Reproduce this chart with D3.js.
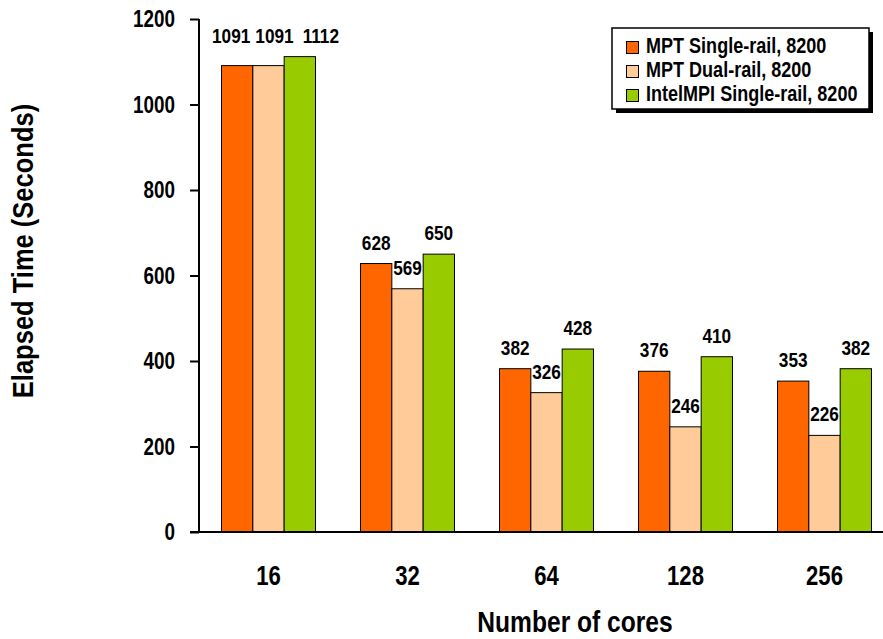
<!DOCTYPE html>
<html><head><meta charset="utf-8">
<script src="https://cdn.jsdelivr.net/npm/d3@7"></script>
<style>
body{margin:0;background:#fff;}
text{font-family:"Liberation Sans",Arial,sans-serif;font-weight:bold;fill:#000;}
</style></head>
<body><svg id="c" width="883" height="639"></svg>
<script>
const categories = ["16","32","64","128","256"];
const seriesNames = ["MPT Single-rail, 8200","MPT Dual-rail, 8200","IntelMPI Single-rail, 8200"];
const mptSingle = [1091, 628, 382, 376, 353];
const mptDual = [1091, 569, 326, 246, 226];
const intelSingle = [1112, 650, 428, 410, 382];
const yTicks = [0,200,400,600,800,1000,1200];
const colors = ["#FF6600","#FFCC99","#99CC00"];
const series = [mptSingle, mptDual, intelSingle];

const SX = 0.82;
const svg = d3.select("#c");
function label(parent, x, y, str, size, anchor, rot, sx){
  const g = parent.append("g").attr("transform",`translate(${x},${y})${rot?` rotate(${rot})`:""} scale(${sx||SX},1)`);
  g.append("text").attr("text-anchor",anchor||"middle").attr("font-size",size).text(str);
  return g;
}

const y = d3.scaleLinear().domain([0,1200]).range([532,19]);
const x = d3.scaleBand().domain(categories).range([199,894]).paddingInner(0.324).paddingOuter(0.162);
const xs = d3.scaleBand().domain(d3.range(3)).range([0,x.bandwidth()]);

// bars
const barsG = svg.append("g");
categories.forEach((c,i)=>{
  series.forEach((s,j)=>{
    barsG.append("rect").attr("x",x(c)+xs(j)).attr("y",y(s[i])).attr("width",xs.bandwidth()).attr("height",y(0)-y(s[i]))
      .attr("fill",colors[j]).attr("stroke","#000").attr("stroke-width",1);
  });
});
// value labels; in the crowded first group they sit on one line, spread apart
const lblG = svg.append("g");
const firstGroupShift = [-6, 6, 21];
categories.forEach((c,i)=>{
  const top = d3.max(series, s => s[i]);
  series.forEach((s,j)=>{
    const cx = x(c)+xs(j)+xs.bandwidth()/2;
    if (i === 0) label(lblG, cx + firstGroupShift[j], y(top)-14, String(s[i]), 21, "middle");
    else label(lblG, cx, y(s[i])-14, String(s[i]), 21, "middle");
  });
});

// y axis
const ya = svg.append("g").attr("transform","translate(199,0)")
  .call(d3.axisLeft(y).tickValues(yTicks).tickSize(9).tickFormat(d3.format("d")));
ya.selectAll("path,line").attr("stroke","#000").attr("stroke-width",2);
ya.select(".domain").attr("d",`M0,${y(1200)}V${y(0)}`);
ya.selectAll(".tick text").remove();
yTicks.forEach(t=>{
  label(svg, 175, y(t)+8, String(t), 23, "end");
});

// x axis line
svg.append("line").attr("x1",190).attr("x2",883).attr("y1",y(0)).attr("y2",y(0)).attr("stroke","#000").attr("stroke-width",2);
categories.forEach(c=>{
  label(svg, x(c)+x.bandwidth()/2, y(0)+53, c, 27, "middle");
});

// axis titles
label(svg, 33, 251, "Elapsed Time (Seconds)", 29, "middle", -90, 0.88);
label(svg, 575, 632, "Number of cores", 30, "middle");

// legend
const lg = svg.append("g");
lg.append("rect").attr("x",616).attr("y",32).attr("width",257).attr("height",81).attr("fill","#000");
lg.append("rect").attr("x",612).attr("y",28).attr("width",257).attr("height",81).attr("fill","#fff").attr("stroke","#000").attr("stroke-width",1.5);
seriesNames.forEach((n,j)=>{
  const yy = 41 + j*24;
  lg.append("rect").attr("x",626.5).attr("y",yy+0.5).attr("width",12).attr("height",12).attr("fill",colors[j]).attr("stroke","#000");
  label(lg, 646, yy+12, n, 22, "start");
});
</script></body></html>
